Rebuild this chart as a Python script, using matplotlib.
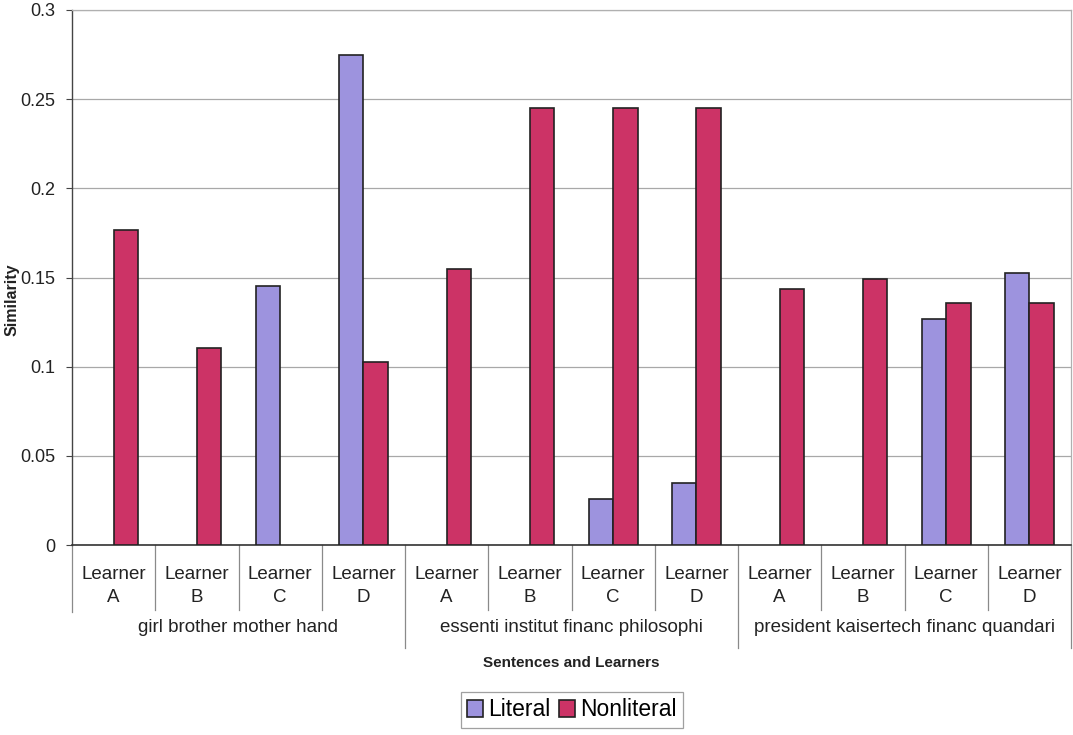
import matplotlib
matplotlib.use("Agg")
import matplotlib.pyplot as plt
import matplotlib.transforms as mtransforms
from matplotlib.lines import Line2D
from matplotlib.patches import Patch
import numpy as np

plt.rcParams["font.family"] = ["Liberation Sans", "DejaVu Sans"]

# Data
sentences = ["girl brother mother hand",
             "essenti institut financ philosophi",
             "president kaisertech financ quandari"]
learners = ["A", "B", "C", "D"]
literal = [0.0, 0.0, 0.145, 0.275,
           0.0, 0.0, 0.026, 0.035,
           0.0, 0.0, 0.127, 0.1525]
nonliteral = [0.1766, 0.1103, 0.0, 0.1024,
              0.1545, 0.245, 0.245, 0.245,
              0.1433, 0.149, 0.1358, 0.1355]
yticks = [0, 0.05, 0.1, 0.15, 0.2, 0.25, 0.3]
ytick_labels = ["0", "0.05", "0.1", "0.15", "0.2", "0.25", "0.3"]

lit_color = "#9d93de"
non_color = "#cc3366"
edge = "#222222"

W, H = 1073, 735
fig = plt.figure(figsize=(W / 100, H / 100), dpi=100)
left, right, top, bottom = 72, 1071, 10, 545
ax = fig.add_axes([left / W, 1 - bottom / H, (right - left) / W, (bottom - top) / H])

n = len(literal)
x = np.arange(n)
bw = 0.295
lit_bars = ax.bar(x - bw / 2, literal, bw, color=lit_color, edgecolor=edge,
                  linewidth=1.2, zorder=3)
non_bars = ax.bar(x + bw / 2, nonliteral, bw, color=non_color, edgecolor=edge,
                  linewidth=1.2, zorder=3)
# empty bars leave no outline on the axis
for bars, vals in ((lit_bars, literal), (non_bars, nonliteral)):
    for rect, v in zip(bars, vals):
        if v == 0:
            rect.set_linewidth(0)

ax.set_xlim(-0.5, n - 0.5)
ax.set_ylim(0, 0.3)
ax.set_yticks(yticks)
ax.set_yticklabels(ytick_labels, fontsize=13, color="#222222")
ax.tick_params(axis="y", length=4, width=0.8, color="#444444", pad=8)
ax.set_xticks([])
ax.yaxis.grid(True, color="#a8a8a8", linewidth=0.9, zorder=0)
ax.set_axisbelow(True)

for s in ["top", "right"]:
    ax.spines[s].set_color("#b0b0b0")
    ax.spines[s].set_linewidth(0.9)
ax.spines["left"].set_color("#444444")
ax.spines["left"].set_linewidth(1.0)
ax.spines["bottom"].set_color("#333333")
ax.spines["bottom"].set_linewidth(1.2)

# Two-level category axis
trans = mtransforms.blended_transform_factory(ax.transData, ax.transAxes)
ah = bottom - top
def ya(py):
    return (bottom - py) / ah

for i in range(n):
    ax.text(x[i], ya(586), "Learner\n" + learners[i % 4], transform=trans,
            ha="center", va="center", fontsize=13.5, color="#222222",
            linespacing=1.4, clip_on=False)

# separators between learners and between sentences
for b in range(n + 1):
    xb = b - 0.5
    if b == 0:
        y_end = ya(612)
    elif b % 4 == 0:
        y_end = ya(648)
    else:
        y_end = ya(610)
    ax.add_line(Line2D([xb, xb], [0, y_end], transform=trans, color="#8a8a8a",
                       linewidth=0.9, clip_on=False))

for g, name in enumerate(sentences):
    ax.text(g * 4 + 1.5, ya(627), name, transform=trans, ha="center", va="center",
            fontsize=13.5, color="#222222", clip_on=False)

fig.text((left + right) / 2 / W, 1 - 663 / H, "Sentences and Learners",
         ha="center", va="center", fontsize=11, fontweight="bold", color="#222222")
fig.text(12 / W, 1 - 300 / H, "Similarity", rotation=90, ha="center", va="center",
         fontsize=11.5, fontweight="bold", color="#222222")

handles = [Patch(facecolor=lit_color, edgecolor=edge, linewidth=1.2, label="Literal"),
           Patch(facecolor=non_color, edgecolor=edge, linewidth=1.2, label="Nonliteral")]
leg = fig.legend(handles=handles, loc="center", bbox_to_anchor=(572 / W, 1 - 710 / H),
                 ncol=2, fontsize=16.5, frameon=True, fancybox=False, edgecolor="#888888",
                 handlelength=0.7, handleheight=0.7, handletextpad=0.2,
                 columnspacing=0.4, borderpad=0.3, borderaxespad=0)
leg.get_frame().set_linewidth(0.9)

fig.savefig("out.png", dpi=100, facecolor="white")
